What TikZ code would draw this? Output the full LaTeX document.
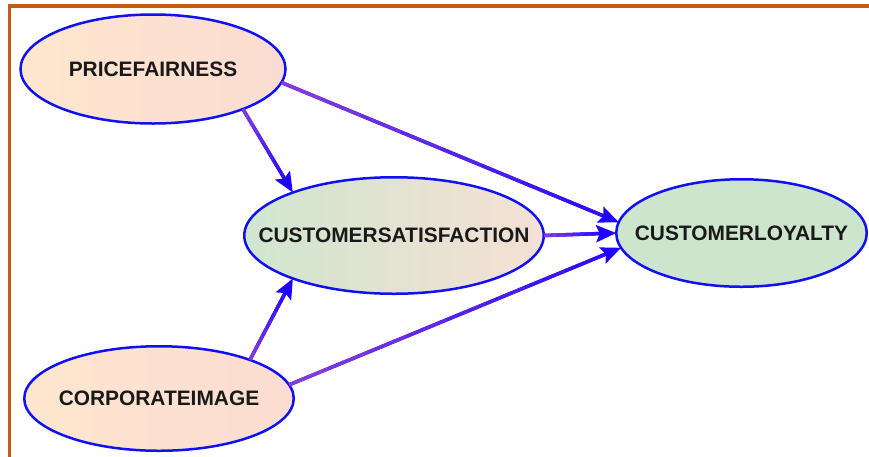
\documentclass[tikz,border=0pt]{standalone}
\usepackage{fontspec}
\setmainfont{Liberation Sans}
\usetikzlibrary{shapes.geometric,arrows.meta,calc}
\definecolor{bordc}{RGB}{197,90,17}
\definecolor{ellc}{RGB}{16,16,240}
\definecolor{peachL}{RGB}{253,230,206}
\definecolor{peachR}{RGB}{252,220,210}
\definecolor{greenL}{RGB}{208,230,207}
\definecolor{satR}{RGB}{245,224,212}
\definecolor{loyal}{RGB}{204,229,204}
\definecolor{edgeA}{RGB}{130,60,220}
\definecolor{edgeB}{RGB}{50,15,248}
\definecolor{tipc}{RGB}{30,0,255}
\definecolor{txt}{RGB}{25,25,25}
\tikzset{
  construct/.style={ellipse, draw=ellc, line width=2.5pt, inner sep=0pt, outer sep=0pt,
    font=\fontsize{20.9}{24}\selectfont\bfseries, text=txt},
  arrowline/.style={draw=tipc, line width=3.5pt, -{Stealth[length=20pt,width=17pt,inset=3.5pt]}},
  gradseg/.style={line width=3.5pt},
  frameline/.style={draw=bordc, line width=3.5pt}
}
\newcommand\gradedge[2]{%
  \draw[arrowline] (#1) -- (#2);
  \path (#1) -- (#2) coordinate[pos=0] (gs) coordinate[pos=1] (gt);
  \coordinate (ge) at ($(gt)!18pt!(gs)$);
  \foreach \i in {0,...,7}{%
    \pgfmathsetmacro\pa{\i/8}%
    \pgfmathsetmacro\pb{(\i+1)/8}%
    \pgfmathsetmacro\pc{\i*100/7}%
    \draw[gradseg, draw=edgeB!\pc!edgeA] ($(gs)!\pa!(ge)$) -- ($(gs)!\pb!(ge)$);
  }%
}
\begin{document}
\begin{tikzpicture}[x=1pt,y=-1pt]
\useasboundingbox (0,0) rectangle (869,456);
\draw[frameline] (9.5,470) -- (9.5,5.8) -- (880,5.8);

\node[construct, minimum width=265pt, minimum height=109pt, left color=peachL, right color=peachR]
  (pf) at (153,69) {\makebox[0pt][c]{PRICEFAIRNESS}};
\node[construct, minimum width=299.5pt, minimum height=116.5pt, left color=greenL, right color=satR]
  (cs) at (394,235.5) {\makebox[0pt][c]{CUSTOMERSATISFACTION}};
\node[construct, minimum width=250.5pt, minimum height=107.5pt, fill=loyal]
  (cl) at (741.5,233) {\makebox[0pt][c]{CUSTOMERLOYALTY}};
\node[construct, minimum width=269.5pt, minimum height=104.5pt, left color=peachL, right color=peachR]
  (ci) at (159,398.5) {\makebox[0pt][c]{CORPORATEIMAGE}};

\gradedge{pf.-24}{cs.157}
\gradedge{pf.-6}{cl.175}
\gradedge{cs.0}{cl.180}
\gradedge{ci.23}{cs.-157}
\gradedge{ci.6}{cl.-173}
\end{tikzpicture}
\end{document}
